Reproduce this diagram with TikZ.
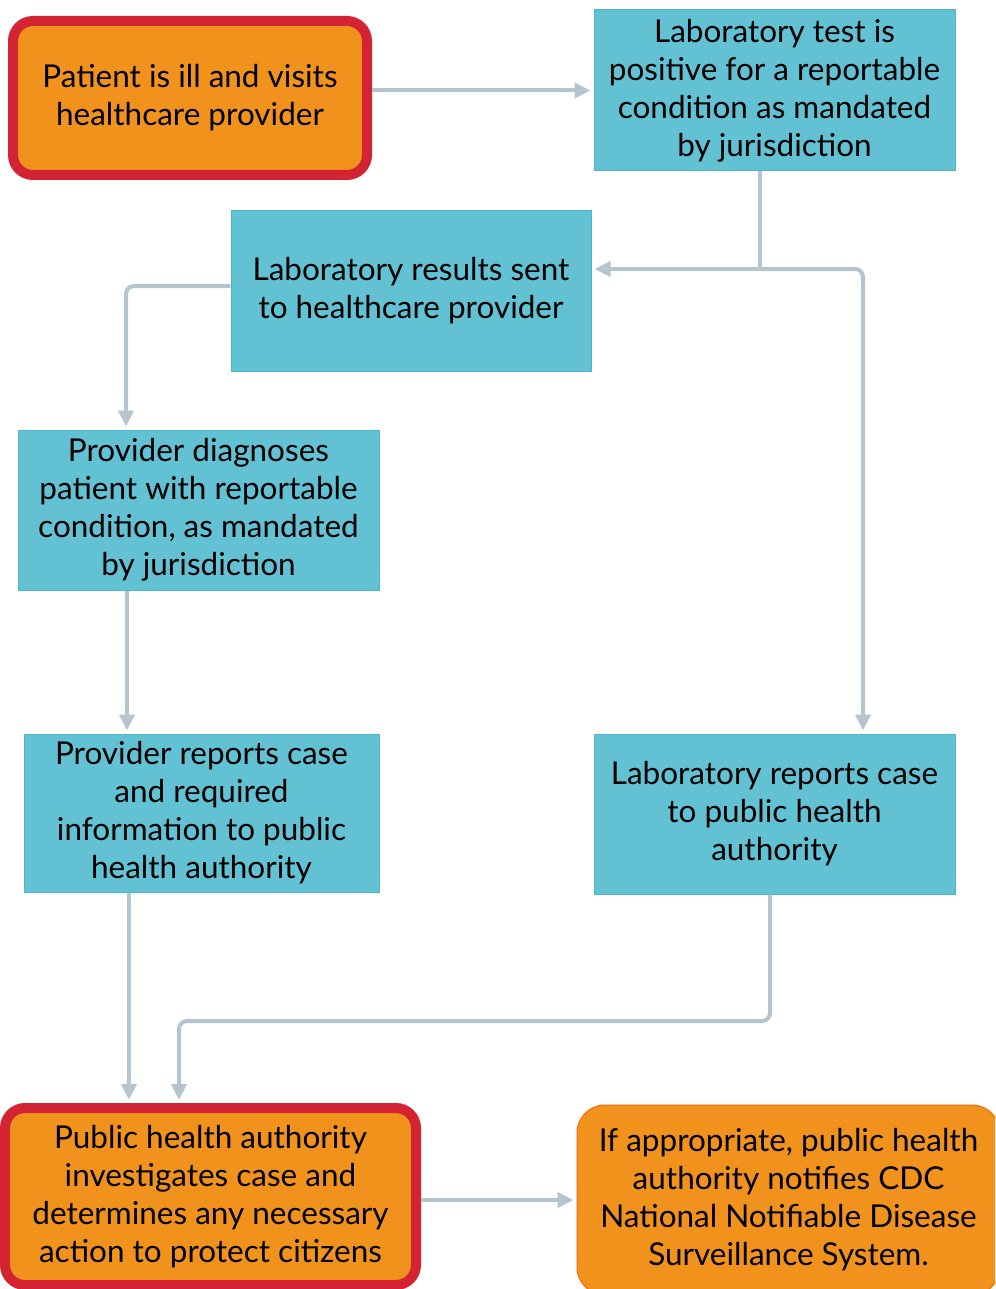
\documentclass[tikz,border=0pt]{standalone}
\usepackage{fontspec}
\setmainfont{Lato}
\usetikzlibrary{arrows.meta}
\definecolor{tealfill}{HTML}{62C2D3}
\definecolor{tealline}{HTML}{4BB6CB}
\definecolor{orfill}{HTML}{F0921C}
\definecolor{redline}{HTML}{D42434}
\definecolor{conncol}{HTML}{B5C5D0}
\tikzset{
  txt/.style={align=center, font=\fontsize{31.5}{38}\selectfont, text=black},
  tealbox/.style={txt, draw=tealline, line width=1pt, fill=tealfill, inner sep=0pt},
  redbox/.style={txt, draw=redline, line width=10pt, fill=orfill, rounded corners=20pt, inner sep=0pt},
  orbox/.style={txt, draw=orange!80!red, line width=1pt, fill=orfill, rounded corners=28pt, inner sep=0pt},
  conn/.style={draw=conncol, line width=4pt, rounded corners=8pt, -{Triangle[length=16pt,width=15pt]}, shorten >=3pt}
}
\begin{document}
\begin{tikzpicture}[x=1pt,y=-1pt]
\clip (0,0) rectangle (995,1289);
\fill[white] (0,0) rectangle (995,1289);
\node[redbox, minimum width=354pt, minimum height=154pt] (patient) at (190,98) {Patient is ill and visits\\healthcare provider};
\node[tealbox, minimum width=361pt, minimum height=161pt] (labtest) at (774.5,90.5) {Laboratory test is\\positive for a reportable\\condition as mandated\\by jurisdiction};
\node[tealbox, minimum width=360pt, minimum height=160pt] (labres) at (411,291) {Laboratory results sent\\to healthcare provider};
\node[tealbox, minimum width=361pt, minimum height=160pt] (diag) at (198.5,510) {Provider diagnoses\\patient with reportable\\condition, as mandated\\by jurisdiction};
\node[tealbox, minimum width=355pt, minimum height=158pt] (provrep) at (201.5,813) {Provider reports case\\and required\\information to public\\health authority};
\node[tealbox, minimum width=361pt, minimum height=160pt] (labrep) at (774.5,814) {Laboratory reports case\\to public health\\authority};
\node[redbox, minimum width=411pt, minimum height=177pt] (pha) at (210.5,1196.5) {Public health authority\\investigates case and\\determines any necessary\\action to protect citizens};
\node[orbox, minimum width=423pt, minimum height=190pt] (ifapp) at (788.5,1200) {If appropriate, public health\\authority notifies CDC\\National Notifiable Disease\\Surveillance System.};
\coordinate (split) at (760,269);
\coordinate (rb) at (863,269);
\coordinate (xa) at (126,0);
\coordinate (xb) at (127,0);
\coordinate (xc) at (129,0);
\coordinate (xd) at (179,0);
\coordinate (xe) at (770,0);
\coordinate (jn) at (770,1021);
\draw[conn] (patient.east |- labtest.west) -- (labtest.west);
\draw[draw=conncol, line width=4pt] (labtest.south -| split) -- (split);
\draw[conn] (split) -- (labres.east |- split);
\draw[conn] (split) -- (rb) -- (rb |- labrep.north);
\draw[conn] ([yshift=5pt]labres.west) -| (diag.north -| xa);
\draw[conn] (diag.south -| xb) -- (provrep.north -| xb);
\draw[conn] (provrep.south -| xc) -- (pha.north -| xc);
\draw[conn] (labrep.south -| xe) -- (jn) -| (pha.north -| xd);
\draw[conn] (pha.east |- ifapp.west) -- (ifapp.west);
\end{tikzpicture}
\end{document}
